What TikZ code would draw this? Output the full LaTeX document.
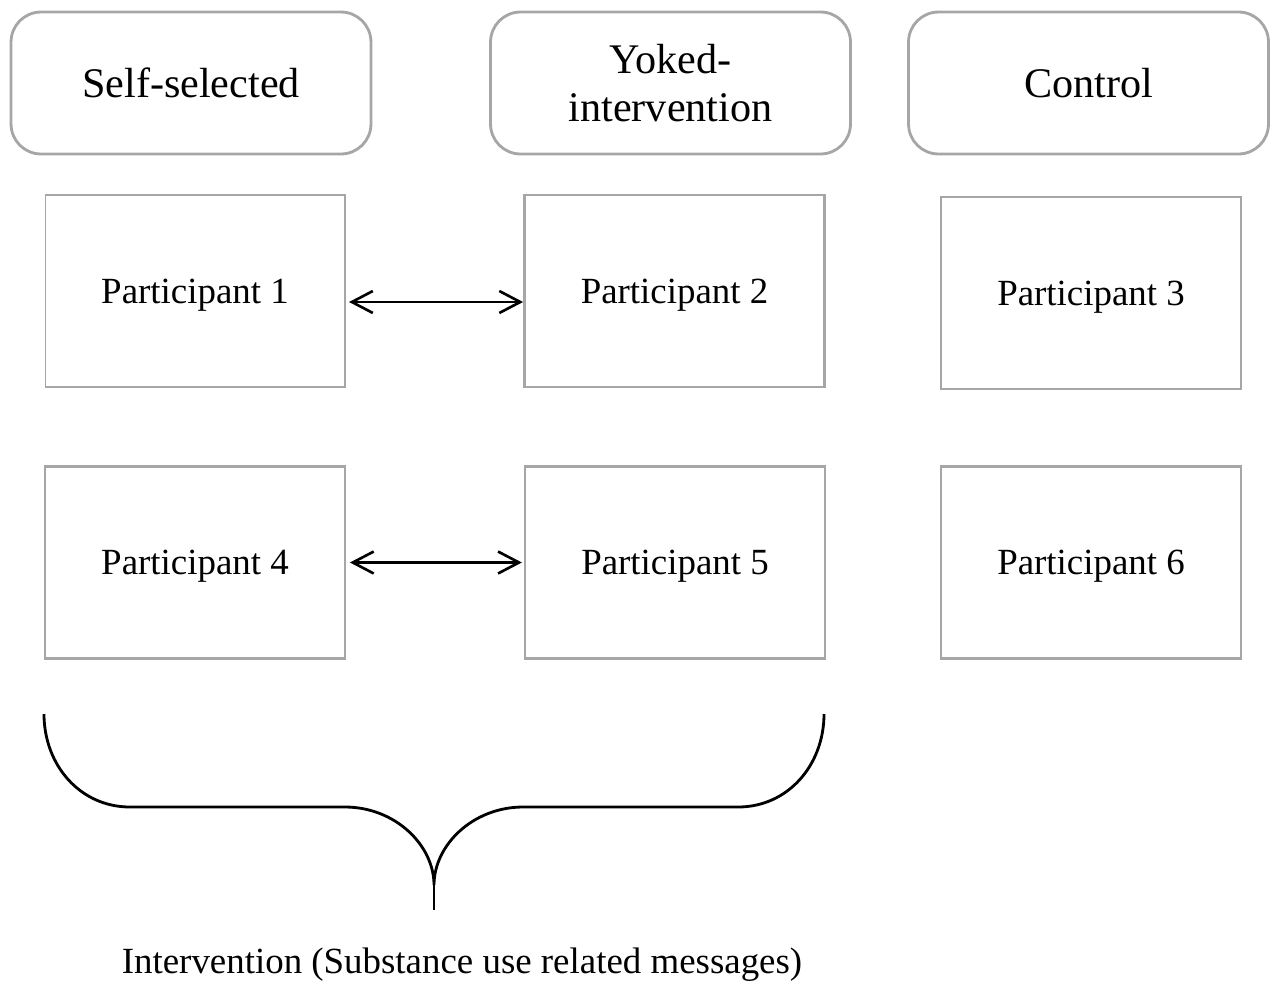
\documentclass[tikz,border=0pt]{standalone}
\usepackage{fontspec}
\setmainfont{Liberation Serif}
\usetikzlibrary{arrows.meta}
\definecolor{boxgray}{RGB}{166,166,166}
\tikzset{
  group/.style={draw=boxgray,line width=1.6pt,rounded corners=0.6cm,minimum width=7.2cm,minimum height=2.84cm,align=center,font=\fontsize{24}{27}\selectfont},
  person/.style={draw=boxgray,line width=1.6pt,minimum width=6cm,minimum height=3.84cm,text depth=0pt,font=\fontsize{21}{25}\selectfont},
  pair/.style={{Straight Barb[length=0.42cm,width=0.44cm]}-{Straight Barb[length=0.42cm,width=0.44cm]},line width=1.5pt},
}
\begin{document}
\begin{tikzpicture}[x=0.02cm,y=-0.02cm]
      \useasboundingbox (0,0) rectangle (1274,984);
      \node[group] (self) at (191,83) {Self-selected};
      \node[group] (yoked) at (670.5,83) {Yoked-\\intervention};
      \node[group] (ctrl) at (1088.5,83) {Control};
      \node[person,line width=0.6pt] (p1) at (195,291) {Participant 1};
      \node[person] (p2) at (674.5,291) {Participant 2};
      \node[person] (p3) at (1091,293) {Participant 3};
      \node[person] (p4) at (195,562.5) {Participant 4};
      \node[person] (p5) at (675,562.5) {Participant 5};
      \node[person] (p6) at (1091,562.5) {Participant 6};
      \draw[pair,shorten <=2pt] ([yshift=-0.22cm]p1.east)--([yshift=-0.22cm]p2.west); %pair 1
      \draw[pair,shorten <=2pt,shorten >=1pt] (p4.east)--(p5.west); %pair 2
      \draw[line width=1.6pt] (44,714) .. controls (44,765) and (80,807) .. (130,807) -- (345,807)
        .. controls (395,807) and (434,845) .. (434,885)
        .. controls (434,845) and (473,807) .. (523,807) -- (738,807)
        .. controls (788,807) and (824,765) .. (824,714); %brace
      \draw[line width=1.6pt] (434,885)--(434,910);
      \node[font=\fontsize{21}{25}\selectfont] (interv) at (462,965) {Intervention (Substance use related messages)};
    \end{tikzpicture}
\end{document}
